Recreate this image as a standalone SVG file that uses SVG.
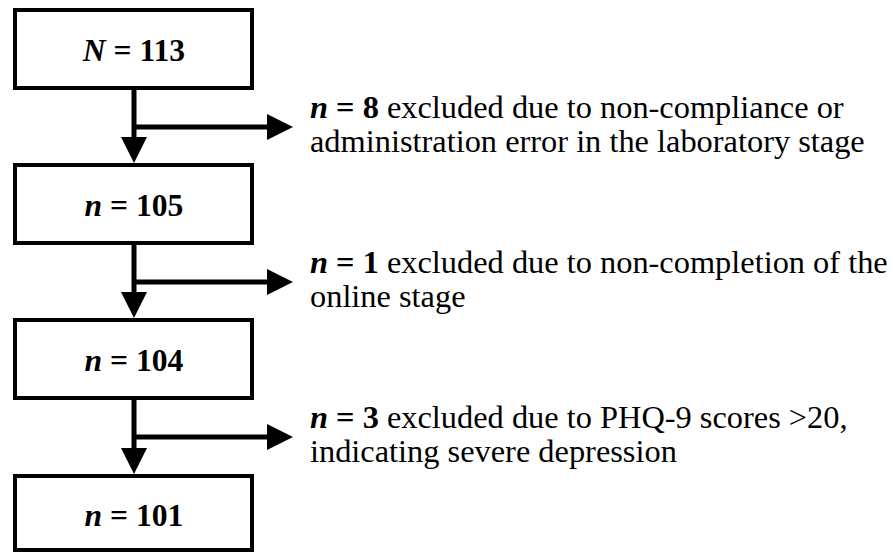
<svg xmlns="http://www.w3.org/2000/svg" width="893" height="552" viewBox="0 0 893 552">
  <style>
    .box { fill: #ffffff; stroke: #000000; stroke-width: 4; }
    .link { fill: none; stroke: #000000; stroke-width: 5; }
    .t { font-family: "Liberation Serif", "Times New Roman", serif; font-size: 31px; fill: #000000; }
    .num { font-weight: bold; }
    .var { font-weight: bold; font-style: italic; }
  </style>
  <defs>
    <marker id="head" markerUnits="userSpaceOnUse" markerWidth="26" markerHeight="26" refX="0" refY="13" orient="auto">
      <path d="M0,0 L26,13 L0,26 Z" fill="#000000"/>
    </marker>
  </defs>
  <rect width="893" height="552" fill="#ffffff"/>

  <!-- participant count boxes -->
  <g id="node-total">
    <rect class="box" x="15" y="10" width="237" height="78"/>
    <text class="t" text-anchor="middle" transform="translate(134 61) scale(1.02 1)"><tspan class="var">N</tspan><tspan class="num"> = 113</tspan></text>
  </g>
  <g id="node-105">
    <rect class="box" x="15" y="165" width="237" height="78"/>
    <text class="t" text-anchor="middle" transform="translate(134 216) scale(1.02 1)"><tspan class="var">n</tspan><tspan class="num"> = 105</tspan></text>
  </g>
  <g id="node-104">
    <rect class="box" x="15" y="320" width="237" height="78"/>
    <text class="t" text-anchor="middle" transform="translate(134 371) scale(1.02 1)"><tspan class="var">n</tspan><tspan class="num"> = 104</tspan></text>
  </g>
  <g id="node-101">
    <rect class="box" x="15" y="476" width="237" height="74"/>
    <text class="t" text-anchor="middle" transform="translate(134 526) scale(1.02 1)"><tspan class="var">n</tspan><tspan class="num"> = 101</tspan></text>
  </g>

  <!-- exclusion notes -->
  <g id="note-lab">
    <text class="t" transform="translate(310 118) scale(1.045 1)"><tspan class="var">n</tspan><tspan class="num"> = 8</tspan> excluded due to non-compliance or</text>
    <text class="t" transform="translate(310 152) scale(1.045 1)">administration error in the laboratory stage</text>
  </g>
  <g id="note-online">
    <text class="t" transform="translate(310 273) scale(1.045 1)"><tspan class="var">n</tspan><tspan class="num"> = 1</tspan> excluded due to non-completion of the</text>
    <text class="t" transform="translate(310 307) scale(1.045 1)">online stage</text>
  </g>
  <g id="note-phq">
    <text class="t" transform="translate(310 428) scale(1.045 1)"><tspan class="var">n</tspan><tspan class="num"> = 3</tspan> excluded due to PHQ-9 scores &gt;20,</text>
    <text class="t" transform="translate(310 462) scale(1.045 1)">indicating severe depression</text>
  </g>

  <!-- flow connectors -->
  <g id="connectors">
    <path class="link" d="M134,90 V137" marker-end="url(#head)"/>
    <path class="link" d="M134,127 H267" marker-end="url(#head)"/>
    <path class="link" d="M134,245 V292" marker-end="url(#head)"/>
    <path class="link" d="M134,282 H267" marker-end="url(#head)"/>
    <path class="link" d="M134,400 V448" marker-end="url(#head)"/>
    <path class="link" d="M134,437 H267" marker-end="url(#head)"/>
  </g>
</svg>
